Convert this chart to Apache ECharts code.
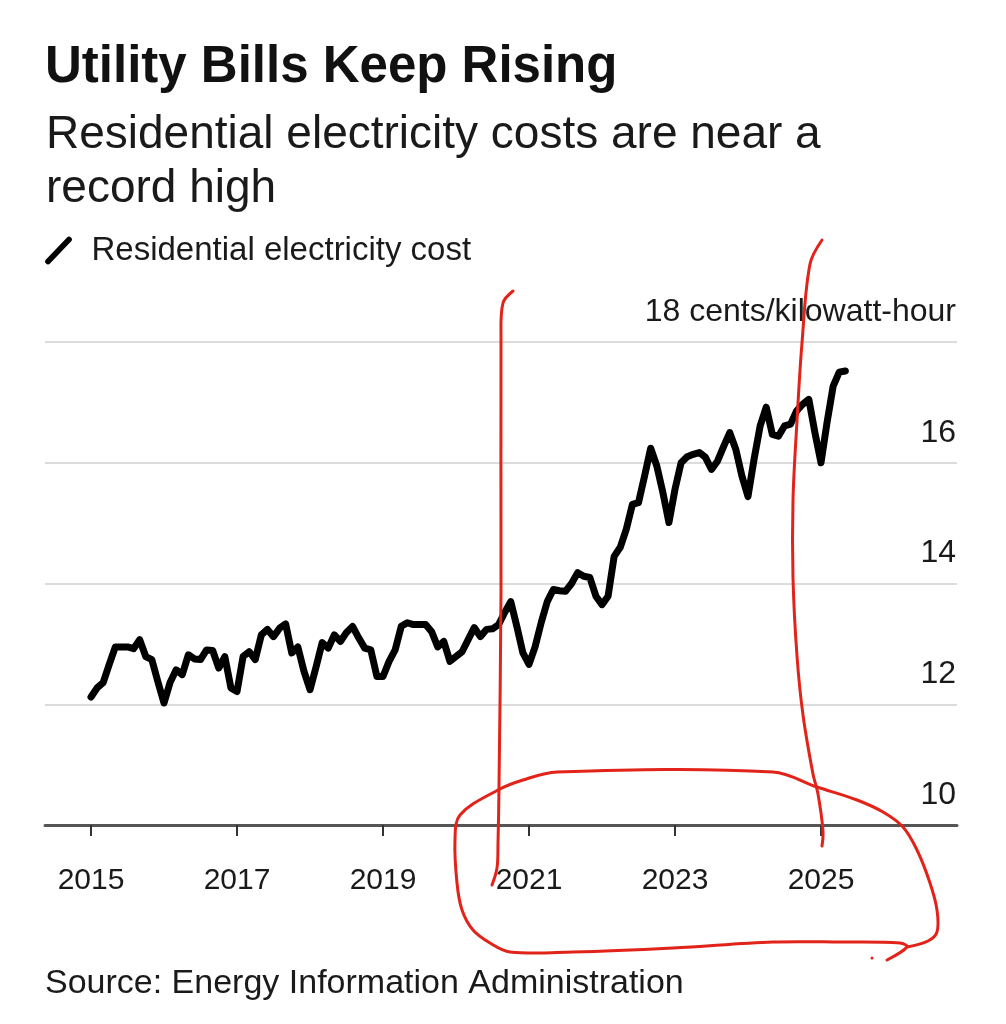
<!DOCTYPE html>
<html><head><meta charset="utf-8">
<script src="https://cdn.jsdelivr.net/npm/echarts@6/dist/echarts.min.js"></script>
<style>html,body{margin:0;padding:0;background:#fff}#c{width:1006px;height:1024px}</style>
</head><body><div id="c"></div>
<script>
// ---- data (cents per kilowatt-hour, monthly, starting Jan 2015) ----
const startYear = 2015;
const values2015 = [12.12, 12.27, 12.36, 12.66, 12.95, 12.95, 12.95, 12.92, 13.07, 12.79, 12.74, 12.37];
const values2016 = [12.02, 12.36, 12.57, 12.49, 12.82, 12.75, 12.74, 12.90, 12.89, 12.60, 12.79, 12.27];
const values2017 = [12.21, 12.79, 12.87, 12.74, 13.15, 13.24, 13.12, 13.26, 13.33, 12.85, 12.95, 12.55];
const values2018 = [12.24, 12.62, 13.02, 12.93, 13.15, 13.04, 13.19, 13.29, 13.10, 12.93, 12.90, 12.46];
const values2019 = [12.46, 12.71, 12.90, 13.29, 13.35, 13.32, 13.32, 13.32, 13.20, 12.95, 13.04, 12.71];
const values2020 = [12.79, 12.87, 13.07, 13.27, 13.12, 13.24, 13.25, 13.32, 13.52, 13.70, 13.29, 12.85];
const values2021 = [12.66, 12.95, 13.35, 13.70, 13.90, 13.88, 13.87, 14.00, 14.18, 14.12, 14.10, 13.79];
const values2022 = [13.65, 13.79, 14.45, 14.60, 14.90, 15.31, 15.34, 15.78, 16.24, 15.95, 15.51, 15.01];
const values2023 = [15.56, 16.00, 16.10, 16.14, 16.17, 16.09, 15.89, 16.03, 16.27, 16.50, 16.22, 15.78];
const values2024 = [15.44, 16.06, 16.61, 16.92, 16.47, 16.44, 16.61, 16.64, 16.86, 16.97, 17.05, 16.50];
const values2025 = [16.00, 16.67, 17.27, 17.50, 17.52];

const xTickYears = [2015, 2017, 2019, 2021, 2023, 2025];
const yTicks = [10, 12, 14, 16, 18];
const seriesName = 'Residential electricity cost';
const unitLabel = 'cents/kilowatt-hour';
const titleText = 'Utility Bills Keep Rising';
const subtitleText = 'Residential electricity costs are near a\nrecord high';
const sourceText = 'Source: Energy Information Administration';

const values = [].concat(values2015, values2016, values2017, values2018, values2019,
  values2020, values2021, values2022, values2023, values2024, values2025);
const seriesData = values.map((v, i) => [startYear + i / 12, v]);

const FONT = '"Liberation Sans", Arial, Helvetica, sans-serif';
const chart = echarts.init(document.getElementById('c'));

const red = '#e2231a';
const redStroke = (pts) => ({
  type: 'polyline', z: 100, silent: true,
  shape: { points: pts, smooth: 0.35 },
  style: { stroke: red, lineWidth: 3, fill: null, lineCap: 'round', lineJoin: 'round' }
});

chart.setOption({
  backgroundColor: '#fff',
  animation: false,
  title: [
    { text: titleText, left: 40, top: 37,
      textStyle: { fontFamily: FONT, fontSize: 51, fontWeight: 'bold', color: '#111' } },
    { text: subtitleText, left: 41, top: 103,
      textStyle: { fontFamily: FONT, fontSize: 46, fontWeight: 'normal', color: '#1a1a1a', lineHeight: 54 } },
    { text: sourceText, left: 40, top: 962,
      textStyle: { fontFamily: FONT, fontSize: 34, fontWeight: 'normal', color: '#1a1a1a' } }
  ],
  legend: {
    left: 40, top: 229,
    icon: 'path://M0,24 L21,2 Q23,0 25,2 Q27,4 25,6 L4,28 Q2,30 0,28 Q-2,26 0,24 Z',
    itemWidth: 40, itemHeight: 28,
    textStyle: { fontFamily: FONT, fontSize: 33, color: '#1a1a1a', padding: [0, 0, 0, 8] },
    data: [{ name: seriesName, itemStyle: { color: '#000' } }]
  },
  grid: { left: 45, right: 49, top: 342, bottom: 199, outerBoundsMode: 'none', containLabel: false },
  xAxis: {
    type: 'value',
    min: 2015 - 46 / 73,
    max: 2015 + 866 / 73,
    axisLine: { show: true, onZero: false, lineStyle: { color: '#555', width: 3 } },
    axisTick: { show: true, customValues: xTickYears, length: 11, lineStyle: { color: '#333', width: 2 } },
    axisLabel: { customValues: xTickYears, margin: 41, fontFamily: FONT, fontSize: 30, color: '#1a1a1a',
      formatter: (v) => String(Math.round(v)) },
    splitLine: { show: false }
  },
  yAxis: {
    type: 'value', position: 'right',
    min: yTicks[0], max: yTicks[yTicks.length - 1], interval: 2,
    axisLine: { show: false }, axisTick: { show: false },
    splitLine: { show: true, lineStyle: { color: '#dcdcdc', width: 2 } },
    axisLabel: {
      inside: true, margin: 1, verticalAlign: 'bottom', padding: [0, 0, 14, 0],
      fontFamily: FONT, fontSize: 32, color: '#1a1a1a',
      formatter: (v) => v === yTicks[yTicks.length - 1] ? v + ' ' + unitLabel : String(v)
    }
  },
  series: [{
    name: seriesName, type: 'line', data: seriesData, showSymbol: false, symbol: 'none',
    lineStyle: { color: '#000', width: 7, cap: 'round', join: 'round' },
    itemStyle: { color: '#000' }, z: 5
  }],
  graphic: [
    redStroke([[513,291],[503,303],[501,338],[501,591],[499,786],[498,844],[497,868],[492,885]]),
    redStroke([[822,240],[810,264],[802,343],[797,421],[793,500],[793,578],[797,656],[803,715],[813,774],[818,794],[823,831],[822,846]]),
    redStroke([[887,960],[907,947],[900,943],[840,942],[773,942],[673,948],[573,952],[510,952],[490,943],[473,930],[462,910],[457,883],[455,840],[460,815],[498,790],[523,780],[557,772],[773,772],[817,787],[857,800],[883,812],[903,827],[917,850],[930,883],[937,910],[937,932],[928,941],[907,947]]),
    { type: 'circle', z: 100, silent: true, shape: { cx: 872, cy: 958, r: 1.5 }, style: { fill: red } }
  ]
});
</script>
</body></html>
